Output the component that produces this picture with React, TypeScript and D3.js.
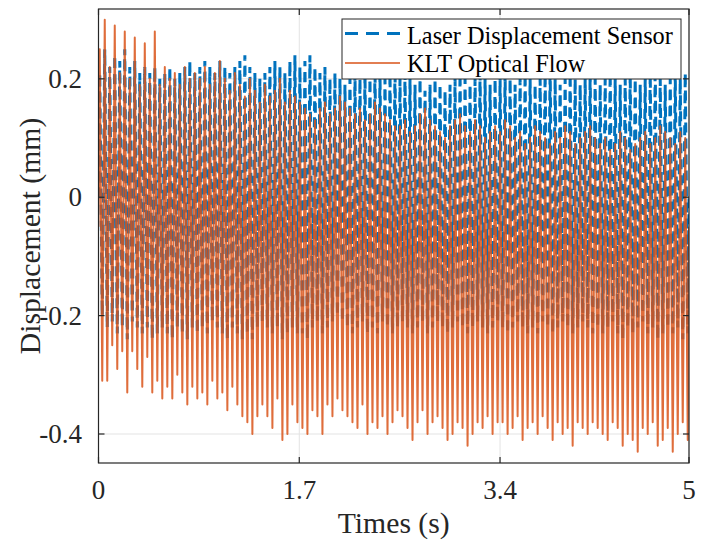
import React from "react";
import * as d3 from "d3";

// ---- data ----
const xTicks = [0, 1.7, 3.4, 5];
const xTickLabels = ["0", "1.7", "3.4", "5"];
const yTicks = [-0.4, -0.2, 0, 0.2];
const yTickLabels = ["-0.4", "-0.2", "0", "0.2"];
const seriesNames = ["Laser Displacement Sensor", "KLT Optical Flow"];
const duration = 5;
const laserStart = 0.0;
const kltStart = -0.05;

// per-cycle peaks / troughs of the Laser Displacement Sensor signal
const laserPeaks = [
  0.21, 0.25, 0.22, 0.24, 0.23, 0.25, 0.22, 0.23, 0.21, 0.22, 0.21, 0.22, 0.20, 0.21, 0.22, 0.20, 0.21, 0.22, 0.23, 0.21,
  0.22, 0.23, 0.22, 0.21, 0.23, 0.22, 0.21, 0.22, 0.23, 0.24, 0.22, 0.21, 0.20, 0.21, 0.22, 0.23, 0.22, 0.21, 0.23, 0.24,
  0.22, 0.23, 0.24, 0.22, 0.21, 0.22, 0.20, 0.21, 0.20, 0.19, 0.20, 0.21, 0.20, 0.21, 0.20, 0.22, 0.21, 0.20, 0.21, 0.22,
  0.20, 0.21, 0.20, 0.19, 0.20, 0.18, 0.19, 0.20, 0.19, 0.18, 0.19, 0.20, 0.21, 0.20, 0.19, 0.20, 0.21, 0.20, 0.19, 0.20,
  0.20, 0.21, 0.20, 0.19, 0.20, 0.21, 0.20, 0.19, 0.20, 0.21, 0.22, 0.20, 0.19, 0.20, 0.21, 0.20, 0.19, 0.20, 0.21, 0.20,
  0.19, 0.20, 0.21, 0.20, 0.19, 0.20, 0.21, 0.20, 0.19, 0.20, 0.21, 0.22, 0.20, 0.19, 0.20, 0.21, 0.20, 0.21,
];
const laserTroughs = [
  -0.20, -0.22, -0.21, -0.23, -0.22, -0.24, -0.21, -0.22, -0.23, -0.22, -0.24, -0.23, -0.22, -0.23, -0.24, -0.22, -0.23, -0.24, -0.22, -0.23,
  -0.22, -0.23, -0.21, -0.22, -0.23, -0.24, -0.22, -0.23, -0.24, -0.23, -0.24, -0.22, -0.21, -0.22, -0.23, -0.22, -0.24, -0.23, -0.22, -0.23,
  -0.23, -0.24, -0.22, -0.21, -0.23, -0.22, -0.21, -0.20, -0.21, -0.22, -0.23, -0.22, -0.21, -0.23, -0.22, -0.23, -0.21, -0.22, -0.23, -0.22,
  -0.21, -0.22, -0.23, -0.22, -0.21, -0.23, -0.22, -0.21, -0.22, -0.23, -0.22, -0.21, -0.22, -0.23, -0.22, -0.21, -0.22, -0.23, -0.22, -0.21,
  -0.22, -0.23, -0.22, -0.21, -0.22, -0.23, -0.22, -0.23, -0.21, -0.22, -0.23, -0.22, -0.21, -0.22, -0.23, -0.22, -0.21, -0.22, -0.23, -0.22,
  -0.23, -0.22, -0.21, -0.23, -0.24, -0.22, -0.23, -0.22, -0.21, -0.23, -0.22, -0.24, -0.23, -0.22, -0.23, -0.22, -0.24, -0.23,
];

// per-cycle peaks / troughs of the KLT Optical Flow signal
const kltPeaks = [
  0.25, 0.30, 0.22, 0.29, 0.21, 0.28, 0.20, 0.27, 0.19, 0.26, 0.20, 0.28, 0.19, 0.22, 0.20, 0.21, 0.19, 0.22, 0.20, 0.21,
  0.20, 0.22, 0.19, 0.21, 0.23, 0.20, 0.18, 0.21, 0.19, 0.17, 0.20, 0.18, 0.16, 0.19, 0.17, 0.18, 0.20, 0.16, 0.18, 0.17,
  0.16, 0.15, 0.14, 0.13, 0.15, 0.16, 0.14, 0.15, 0.17, 0.16, 0.15, 0.14, 0.15, 0.13, 0.14, 0.16, 0.15, 0.14, 0.13, 0.12,
  0.12, 0.13, 0.11, 0.12, 0.14, 0.15, 0.13, 0.12, 0.11, 0.10, 0.12, 0.13, 0.14, 0.12, 0.11, 0.13, 0.12, 0.10, 0.11, 0.12,
  0.11, 0.13, 0.12, 0.10, 0.11, 0.09, 0.10, 0.12, 0.11, 0.10, 0.09, 0.11, 0.10, 0.12, 0.11, 0.09, 0.10, 0.11, 0.12, 0.10,
  0.09, 0.10, 0.08, 0.09, 0.11, 0.10, 0.08, 0.09, 0.10, 0.11, 0.09, 0.10, 0.12, 0.11, 0.10, 0.09, 0.11, 0.10,
];
const kltTroughs = [
  -0.31, -0.31, -0.25, -0.29, -0.26, -0.33, -0.26, -0.29, -0.32, -0.27, -0.33, -0.31, -0.34, -0.32, -0.34, -0.30, -0.33, -0.35, -0.32, -0.34,
  -0.33, -0.35, -0.31, -0.34, -0.33, -0.36, -0.32, -0.35, -0.37, -0.38, -0.40, -0.37, -0.35, -0.37, -0.39, -0.34, -0.41, -0.40, -0.35, -0.38,
  -0.39, -0.40, -0.36, -0.37, -0.40, -0.35, -0.37, -0.34, -0.36, -0.37, -0.38, -0.39, -0.35, -0.40, -0.38, -0.39, -0.37, -0.40, -0.38, -0.36,
  -0.37, -0.39, -0.41, -0.38, -0.36, -0.40, -0.38, -0.37, -0.39, -0.41, -0.40, -0.38, -0.39, -0.42, -0.40, -0.38, -0.39, -0.37, -0.40, -0.38,
  -0.38, -0.40, -0.39, -0.37, -0.41, -0.39, -0.38, -0.40, -0.37, -0.39, -0.41, -0.38, -0.40, -0.39, -0.42, -0.38, -0.39, -0.40, -0.38, -0.39,
  -0.40, -0.41, -0.38, -0.39, -0.42, -0.40, -0.41, -0.43, -0.39, -0.40, -0.38, -0.42, -0.41, -0.39, -0.43, -0.40, -0.38, -0.41,
];

type Pt = [number, number];
function buildSeries(start: number, peaks: number[], troughs: number[]): Pt[] {
  const n = Math.min(peaks.length, troughs.length);
  const period = duration / n;
  const pts: Pt[] = [[0, start]];
  for (let i = 0; i < n; i++) {
    pts.push([(i + 0.25) * period, peaks[i]]);
    pts.push([(i + 0.75) * period, troughs[i]]);
  }
  pts.push([duration, start]);
  return pts;
}

const W = 703;
const H = 545;
const L = 98.5, R = 689, T = 9, B = 463;
const FONT = "'Liberation Serif', 'Times New Roman', serif";
const AXC = "#262626";
const BLUE = "#0072BD";
const ORANGE = "#D95319";

export default function App() {
  const x = d3.scaleLinear().domain([0, duration]).range([L, R]);
  const y = d3.scaleLinear().domain([-0.449, 0.318]).range([B, T]);
  const line = d3
    .line<Pt>()
    .x((d) => x(d[0]))
    .y((d) => y(d[1]))
    .curve(d3.curveLinear);
  const laser = buildSeries(laserStart, laserPeaks, laserTroughs);
  const klt = buildSeries(kltStart, kltPeaks, kltTroughs);
  const tl = 6;

  return (
    <svg width={W} height={H} style={{ position: "absolute", left: 0, top: 0, background: "#fff" }} fontFamily={FONT}>
      <rect x={0} y={0} width={W} height={H} fill="#fff" />
      <defs>
        <clipPath id="plotclip">
          <rect x={L} y={T} width={R - L} height={B - T} />
        </clipPath>
      </defs>
      {/* grid */}
      <g stroke="#e3e3e3" strokeWidth={1}>
        {xTicks.map((t) => (
          <line key={"gx" + t} x1={x(t)} x2={x(t)} y1={T} y2={B} />
        ))}
        {yTicks.map((t) => (
          <line key={"gy" + t} x1={L} x2={R} y1={y(t)} y2={y(t)} />
        ))}
      </g>
      {/* data */}
      <g clipPath="url(#plotclip)" fill="none">
        <path d={line(laser) || ""} stroke={BLUE} strokeWidth={3} strokeDasharray="10 6" />
        <path d={line(klt) || ""} stroke={ORANGE} strokeWidth={2} strokeOpacity={0.85} strokeLinejoin="round" />
      </g>
      {/* box + ticks */}
      <rect x={L} y={T} width={R - L} height={B - T} fill="none" stroke={AXC} strokeWidth={1.2} />
      <g stroke={AXC} strokeWidth={1.2}>
        {xTicks.map((t) => (
          <g key={"tx" + t}>
            <line x1={x(t)} x2={x(t)} y1={B} y2={B - tl} />
            <line x1={x(t)} x2={x(t)} y1={T} y2={T + tl} />
          </g>
        ))}
        {yTicks.map((t) => (
          <g key={"ty" + t}>
            <line x1={L} x2={L + tl} y1={y(t)} y2={y(t)} />
            <line x1={R} x2={R - tl} y1={y(t)} y2={y(t)} />
          </g>
        ))}
      </g>
      {/* tick labels */}
      <g fill={AXC} fontSize={27}>
        {xTicks.map((t, i) => (
          <text key={"lx" + t} x={x(t)} y={499} textAnchor="middle">
            {xTickLabels[i]}
          </text>
        ))}
        {yTicks.map((t, i) => (
          <text key={"ly" + t} x={82} y={y(t) + 9} textAnchor="end">
            {yTickLabels[i]}
          </text>
        ))}
      </g>
      {/* axis labels */}
      <text x={(L + R) / 2} y={533} textAnchor="middle" fontSize={29.7} fill={AXC}>
        Times (s)
      </text>
      <text transform={`translate(40, ${(T + B) / 2}) rotate(-90)`} textAnchor="middle" fontSize={29.7} fill={AXC}>
        Displacement (mm)
      </text>
      {/* legend */}
      <g>
        <rect x={342} y={19} width={339} height={60} fill="#fff" stroke={AXC} strokeWidth={1} />
        <line x1={345} x2={400} y1={33.5} y2={33.5} stroke={BLUE} strokeWidth={3} strokeDasharray="13 8" />
        <line x1={345} x2={400} y1={63} y2={63} stroke={ORANGE} strokeWidth={1.6} />
        <text x={407} y={44} fontSize={24.3} fill="#000">
          {seriesNames[0]}
        </text>
        <text x={407} y={72} fontSize={24.3} fill="#000">
          {seriesNames[1]}
        </text>
      </g>
    </svg>
  );
}
